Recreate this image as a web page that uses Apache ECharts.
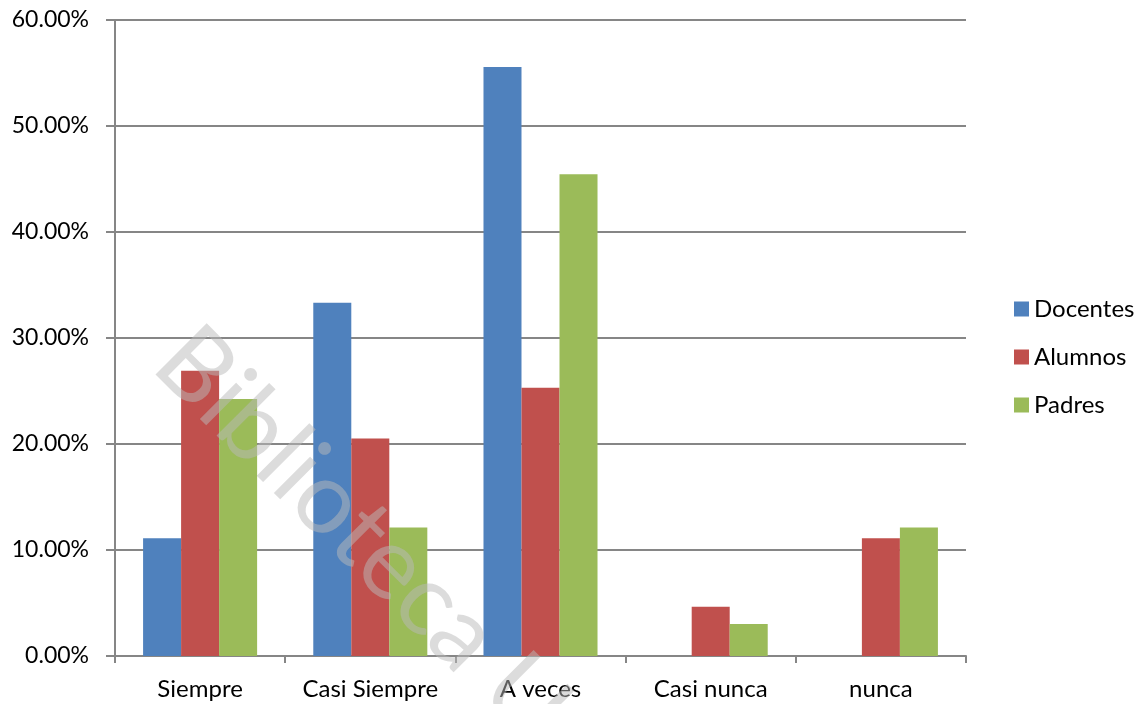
<!DOCTYPE html>
<html>
<head>
<meta charset="utf-8">
<script src="https://cdn.jsdelivr.net/npm/echarts@6/dist/echarts.min.js"></script>
<style>
html,body{margin:0;padding:0;background:#fff;}
#c{width:1141px;height:704px;}
</style>
</head>
<body>
<div id="c"></div>
<script>
const categories = ['Siempre', 'Casi Siempre', 'A veces', 'Casi nunca', 'nunca'];
const docentes = [11.11, 33.33, 55.56, 0, 0];
const alumnos = [26.92, 20.51, 25.30, 4.65, 11.11];
const padres = [24.24, 12.12, 45.45, 3.03, 12.12];
const seriesNames = ['Docentes', 'Alumnos', 'Padres'];
const colors = ['#4F81BD', '#C0504D', '#9BBB59'];
const watermark = 'Biblioteca U';

const font = 'Lato, "Open Sans", sans-serif';
const chart = echarts.init(document.getElementById('c'), null, {renderer: 'canvas'});
const mk = (name, data, i) => ({
  name, type: 'bar', data,
  barGap: '0%', barCategoryGap: '33%',
  itemStyle: {color: colors[i]},
  emphasis: {disabled: true}
});
chart.setOption({
  animation: false,
  color: colors,
  grid: {left: 115, right: 175, top: 20, bottom: 48, containLabel: false},
  legend: {
    orient: 'vertical', left: 1009, top: 292,
    itemWidth: 15, itemHeight: 15, itemGap: 24,
    icon: 'rect',
    textStyle: {fontFamily: font, fontSize: 24, color: '#000'},
    data: seriesNames
  },
  xAxis: {
    type: 'category', data: categories,
    axisLine: {lineStyle: {color: '#868686', width: 2}},
    axisTick: {show: true, interval: 0, length: 7, lineStyle: {color: '#868686', width: 2}},
    axisLabel: {interval: 0, fontFamily: font, fontSize: 24, color: '#000', margin: 21}
  },
  yAxis: {
    type: 'value', min: 0, max: 60, interval: 10,
    axisLine: {show: true, lineStyle: {color: '#868686', width: 2}},
    axisTick: {show: true, length: 9, lineStyle: {color: '#868686', width: 2}},
    splitLine: {lineStyle: {color: '#868686', width: 2}},
    axisLabel: {fontFamily: font, fontSize: 23, color: '#000', margin: 26,
      formatter: v => v.toFixed(2) + '%'}
  },
  series: [mk(seriesNames[0], docentes, 0), mk(seriesNames[1], alumnos, 1), mk(seriesNames[2], padres, 2)],
  graphic: [{
    type: 'text', z: 100,
    x: 172, y: 345,
    rotation: -0.785,
    style: {text: watermark, fontFamily: font, fontSize: 101, fontWeight: 'normal',
      fill: 'rgba(185,185,185,0.5)', align: 'left', verticalAlign: 'middle'}
  }]
});
</script>
</body>
</html>
